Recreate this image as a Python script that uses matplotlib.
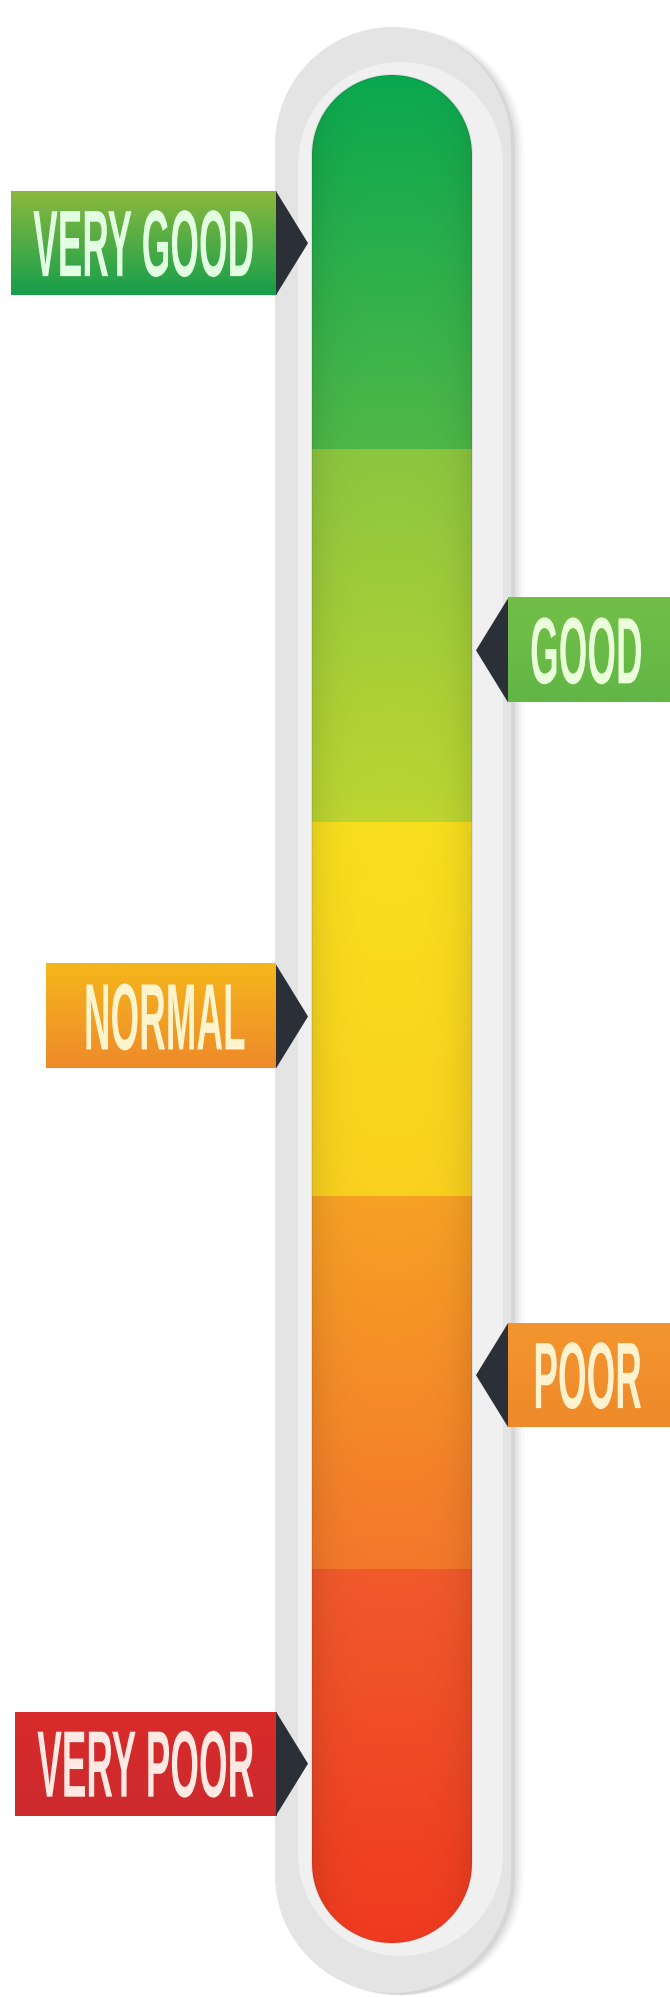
import numpy as np
import matplotlib
matplotlib.use("Agg")
import matplotlib.pyplot as plt
from matplotlib.colors import to_rgb
from matplotlib.patches import Polygon
from matplotlib.patheffects import AbstractPathEffect
from matplotlib.text import Text
from matplotlib.transforms import Affine2D, Bbox

# Rating scale, listed bottom -> top (score 0 at the bottom, 5 at the top)
levels = ["VERY POOR", "POOR", "NORMAL", "GOOD", "VERY GOOD"]
band_edges = [0, 1, 2, 3, 4, 5]
pointer_values = [0.48, 1.52, 2.48, 3.46, 4.55]
pointer_sides = ["left", "right", "left", "right", "left"]

# Colours, same order as levels
band_top = ["#f15a2b", "#f7a124", "#f8df1e", "#8cc63f", "#0aa84f"]
band_bottom = ["#ef3a1f", "#f4782b", "#fbd11f", "#bdd631", "#4fb848"]
tag_top = ["#d92b2b", "#f3952e", "#f5b61b", "#72bf48", "#8ab83e"]
tag_bottom = ["#cc2a2e", "#ef8a2a", "#ef8a2b", "#62b646", "#179f4c"]
text_colors = ["#ffe9e2", "#fff2cf", "#fff4cc", "#eaffd9", "#e2ffe2"]

# Layout (pixels)
W, H = 670, 1997
bar_x0, bar_x1 = 312, 472
bar_bottom_px = 1943          # from top of image
band_px = 373.6               # height of one band
track_x0, track_x1 = 275, 511
unit = 1.0 / band_px          # score units per pixel


class Squeeze(AbstractPathEffect):
    """Draw text glyphs narrower, pinned at their left or right end."""

    def __init__(self, sx, pin="left"):
        super().__init__()
        self._sx = sx
        self._pin = pin

    def draw_path(self, renderer, gc, tpath, affine, rgbFace=None):
        ext = tpath.get_extents()
        px = ext.x0 if self._pin == "left" else ext.x1
        tr = Affine2D().translate(-px, 0).scale(self._sx, 1).translate(px, 0) + affine
        renderer.draw_path(gc, tpath, tr, rgbFace)


class NarrowText(Text):
    """Text drawn condensed; its extent is condensed the same way."""

    def __init__(self, *args, sx=1.0, **kwargs):
        super().__init__(*args, **kwargs)
        self._sx = sx
        self.set_path_effects([Squeeze(sx, self.get_horizontalalignment())])

    def get_window_extent(self, renderer=None, dpi=None):
        bb = super().get_window_extent(renderer, dpi)
        w = bb.width * self._sx
        if self.get_horizontalalignment() == "left":
            return Bbox([[bb.x0, bb.y0], [bb.x0 + w, bb.y1]])
        return Bbox([[bb.x1 - w, bb.y0], [bb.x1, bb.y1]])


def stadium(x0, x1, y0, y1, **kw):
    r = (x1 - x0) / 2
    xc = (x0 + x1) / 2
    th = np.linspace(0, np.pi, 60)
    top = np.c_[xc + r * np.cos(th), y1 - r * unit + r * unit * np.sin(th)]
    bot = np.c_[xc + r * np.cos(th + np.pi), y0 + r * unit + r * unit * np.sin(th + np.pi)]
    return Polygon(np.vstack([top, bot]), closed=True, **kw)


def vgrad(c_bottom, c_top, n=64, m=32, edge=0.0):
    a, b = np.array(to_rgb(c_bottom)), np.array(to_rgb(c_top))
    t = np.linspace(0, 1, n)[:, None]
    col = a + (b - a) * t
    shade = 1 - edge * np.abs(np.linspace(-1, 1, m)) ** 4
    return np.clip(col[:, None, :] * shade[None, :, None], 0, 1)


fig = plt.figure(figsize=(W / 100, H / 100), dpi=100)
ax = fig.add_axes([0, 0, 1, 1])
ax.set_xlim(0, W)
ax.set_ylim((bar_bottom_px - H) * unit, bar_bottom_px * unit)
ax.set_aspect("auto")
ax.axis("off")

top = band_edges[-1]
bottom = band_edges[0]

# soft shadow to the right of the track
for dx, a in [(13, 0.06), (10, 0.10), (7, 0.15), (4, 0.22)]:
    ax.add_patch(stadium(track_x0 + dx, track_x1 + dx, bottom - 52 * unit,
                         top + 46 * unit, fc="#a5a5a5", ec="none", alpha=a, zorder=1))

# outer track and inner lighter ring
ax.add_patch(stadium(track_x0, track_x1, bottom - 50 * unit, top + 48 * unit,
                     fc="#e4e4e4", ec="none", zorder=2))
ax.add_patch(stadium(298, 503, bottom - 13 * unit, top + 13 * unit,
                     fc="#f0f0f0", ec="none", zorder=3))

# coloured bar
bar = stadium(bar_x0, bar_x1, bottom, top, fc="none", ec=(0, 0, 0, 0.07), lw=1.5, zorder=5)
ax.add_patch(bar)
for i in range(len(levels)):
    im = ax.imshow(vgrad(band_bottom[i], band_top[i], edge=0.08),
                   extent=[bar_x0, bar_x1, band_edges[i], band_edges[i + 1]],
                   origin="lower", aspect="auto", interpolation="bilinear", zorder=4)
    im.set_clip_path(bar)

# tags with pointers
fig.canvas.draw()
renderer = fig.canvas.get_renderer()
squeeze = 0.39
tag_h = 104 * unit
cap_h = 66 * unit
pad, min_w = 22, 230
for i, name in enumerate(levels):
    c = pointer_values[i]
    side = pointer_sides[i]
    t = NarrowText(0, c - cap_h / 2, name, sx=squeeze,
                   ha="left" if side == "left" else "right", va="baseline",
                   fontsize=68, family=["Liberation Sans", "DejaVu Sans"], fontweight="bold",
                   color=text_colors[i], zorder=8)
    ax._add_text(t)
    tw = t.get_window_extent(renderer).width
    if side == "left":
        bx1 = bar_x0 - 36
        bx0 = bx1 - max(tw + 2 * pad, min_w)
        base, tip = bx1, bar_x0 - 4
        t.set_x((bx0 + bx1) / 2 - tw / 2)
    else:
        bx0 = bar_x1 + 36
        bx1 = W
        base, tip = bx0, bar_x1 + 4
        t.set_x((bx0 + bx1) / 2 + tw / 2)
    ax.imshow(vgrad(tag_bottom[i], tag_top[i], n=32, m=2),
              extent=[bx0, bx1, c - tag_h / 2, c + tag_h / 2],
              origin="lower", aspect="auto", interpolation="bilinear", zorder=6)
    ax.add_patch(Polygon([(base, c + tag_h / 2), (tip, c), (base, c - tag_h / 2)],
                         closed=True, fc="#2b3038", ec="none", zorder=7))

ax.set_xlim(0, W)
ax.set_ylim((bar_bottom_px - H) * unit, bar_bottom_px * unit)
fig.savefig("out.png", dpi=100, facecolor="white")
